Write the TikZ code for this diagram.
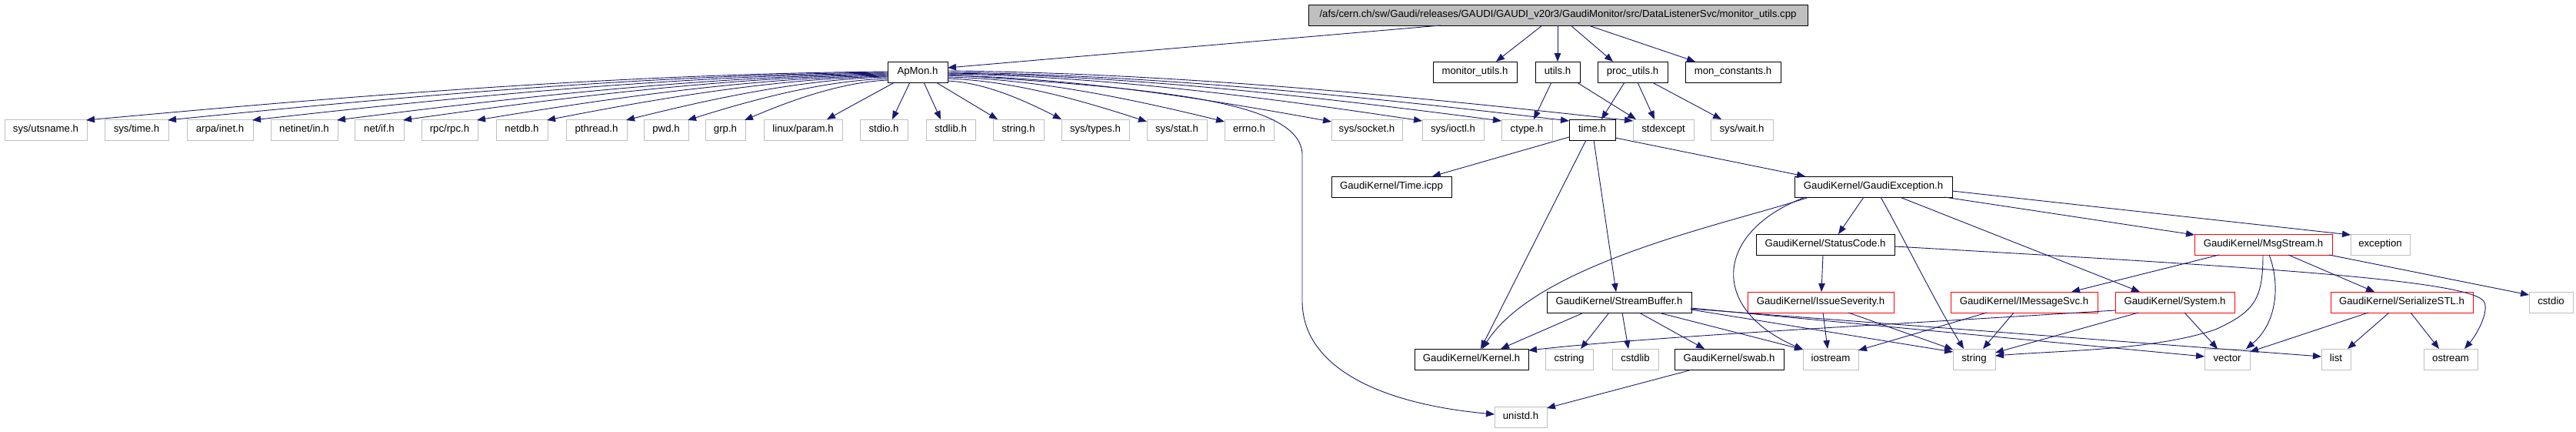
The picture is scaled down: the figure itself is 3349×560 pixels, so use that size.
\documentclass[tikz,border=0pt]{standalone}
\usepackage{fontspec}
\setmainfont{Liberation Sans}
\usetikzlibrary{arrows.meta,calc}
\definecolor{edgeblue}{HTML}{191970}
\definecolor{nodegray}{HTML}{BFBFBF}
\tikzset{
 nbox/.style={draw, line width=1pt, anchor=north west, inner sep=0pt, outer sep=0pt,
   minimum height=27pt, text height=9.6pt, text depth=2.9pt,
   font=\fontsize{13.2}{15}\selectfont, align=center},
 doc/.style={nbox, draw=black},
 ext/.style={nbox, draw=nodegray},
 trunc/.style={nbox, draw=red},
 root/.style={nbox, draw=black, fill=nodegray},
 conn/.style={draw=edgeblue, line width=0.9pt, -{Triangle[length=11pt,width=8.5pt]}}
}
\newcommand\edg[6]{\draw[conn] ($(#1.north west)+(#2,#3)$) -- ($(#4.north west)+(#5,#6)$);}
\newcommand\cedg[8]{\draw[conn] ($(#1.north west)+(#2,#3)$) .. controls (#7) and (#8) .. ($(#4.north west)+(#5,#6)$);}
\begin{document}
\begin{tikzpicture}[x=1pt,y=-1pt]
\useasboundingbox (0,0) rectangle (3349,560);
% root
\node[root, minimum width=649pt] (top) at (1701,6) {/afs/cern.ch/sw/Gaudi/releases/GAUDI/GAUDI\_v20r3/GaudiMonitor/src/DataListenerSvc/monitor\_utils.cpp};
% row A
\node[doc, minimum width=78pt] (apmon) at (1154,80) {ApMon.h};
\node[doc, minimum width=109pt] (monu) at (1863,80) {monitor\_utils.h};
\node[doc, minimum width=58pt] (utils) at (1996,80) {utils.h};
\node[doc, minimum width=91pt] (procu) at (2077,80) {proc\_utils.h};
\node[doc, minimum width=124pt] (monc) at (2191,80) {mon\_constants.h};
% row B
\node[ext, minimum width=107pt] (utsname) at (6,155) {sys/utsname.h};
\node[ext, minimum width=83pt] (systime) at (136,155) {sys/time.h};
\node[ext, minimum width=86pt] (arpa) at (243,155) {arpa/inet.h};
\node[ext, minimum width=87pt] (netinet) at (352,155) {netinet/in.h};
\node[ext, minimum width=64pt] (netif) at (461,155) {net/if.h};
\node[ext, minimum width=73pt] (rpc) at (548,155) {rpc/rpc.h};
\node[ext, minimum width=67pt] (netdb) at (645,155) {netdb.h};
\node[ext, minimum width=79pt] (pthread) at (736,155) {pthread.h};
\node[ext, minimum width=58pt] (pwd) at (837,155) {pwd.h};
\node[ext, minimum width=52pt] (grp) at (917,155) {grp.h};
\node[ext, minimum width=102pt] (linuxp) at (993,155) {linux/param.h};
\node[ext, minimum width=62pt] (stdio) at (1118,155) {stdio.h};
\node[ext, minimum width=64pt] (stdlib) at (1204,155) {stdlib.h};
\node[ext, minimum width=66pt] (stringh) at (1291,155) {string.h};
\node[ext, minimum width=88pt] (systypes) at (1380,155) {sys/types.h};
\node[ext, minimum width=78pt] (sysstat) at (1491,155) {sys/stat.h};
\node[ext, minimum width=64pt] (errno) at (1592,155) {errno.h};
\node[ext, minimum width=92pt] (syssocket) at (1731,155) {sys/socket.h};
\node[ext, minimum width=80pt] (sysioctl) at (1849,155) {sys/ioctl.h};
\node[ext, minimum width=66pt] (ctype) at (1952,155) {ctype.h};
\node[doc, minimum width=60pt] (timeh) at (2040,155) {time.h};
\node[ext, minimum width=79pt] (stdexcept) at (2123,155) {stdexcept};
\node[ext, minimum width=81pt] (syswait) at (2224,155) {sys/wait.h};
% row C
\node[doc, minimum width=156pt] (timeicpp) at (1731,229) {GaudiKernel/Time.icpp};
\node[doc, minimum width=205pt] (gexc) at (2333,229) {GaudiKernel/GaudiException.h};
% row D
\node[doc, minimum width=180pt] (status) at (2283,304) {GaudiKernel/StatusCode.h};
\node[trunc, minimum width=179pt] (msgs) at (2853,304) {GaudiKernel/MsgStream.h};
\node[ext, minimum width=77pt] (exception) at (3056,304) {exception};
% row E
\node[doc, minimum width=188pt] (sbuf) at (2011,379) {GaudiKernel/StreamBuffer.h};
\node[trunc, minimum width=190pt] (issue) at (2272,379) {GaudiKernel/IssueSeverity.h};
\node[trunc, minimum width=191pt] (imsg) at (2536,379) {GaudiKernel/IMessageSvc.h};
\node[trunc, minimum width=155pt] (system) at (2750,379) {GaudiKernel/System.h};
\node[trunc, minimum width=185pt] (serial) at (3030,379) {GaudiKernel/SerializeSTL.h};
\node[ext, minimum width=57pt] (cstdio) at (3288,379) {cstdio};
% row F
\node[doc, minimum width=148pt] (kernel) at (1839,453) {GaudiKernel/Kernel.h};
\node[ext, minimum width=62pt] (cstring) at (2009,453) {cstring};
\node[ext, minimum width=60pt] (cstdlib) at (2096,453) {cstdlib};
\node[doc, minimum width=142pt] (swab) at (2177,453) {GaudiKernel/swab.h};
\node[ext, minimum width=72pt] (iostream) at (2344,453) {iostream};
\node[ext, minimum width=55pt] (string) at (2539,453) {string};
\node[ext, minimum width=59pt] (vector) at (2866,453) {vector};
\node[ext, minimum width=38pt] (list) at (3018,453) {list};
\node[ext, minimum width=70pt] (ostream) at (3151,453) {ostream};
% row G
\node[ext, minimum width=68pt] (unistd) at (1943,528) {unistd.h};

% root edges
\edg{top}{172}{27}{apmon}{78}{8}
\edg{top}{304}{27}{monu}{82}{0}
\edg{top}{324}{27}{utils}{29}{0}
\edg{top}{341}{27}{procu}{20}{0}
\edg{top}{364}{27}{monc}{13}{0}
\edg{utils}{21}{27}{ctype}{42}{0}
\edg{utils}{54}{27}{stdexcept}{4}{0}
\edg{procu}{35}{27}{timeh}{42}{0}
\edg{procu}{52}{27}{stdexcept}{28}{0}
\edg{procu}{71}{27}{syswait}{14}{0}
% ApMon fan, left
\cedg{apmon}{0}{13}{utsname}{106}{1}{810,96}{456,124.5}
\cedg{apmon}{0}{14}{systime}{82}{1}{845,97}{527,125}
\cedg{apmon}{0}{15}{arpa}{85}{1}{881,98}{601,125.5}
\cedg{apmon}{0}{16}{netinet}{86}{1}{918,99}{674,126}
\cedg{apmon}{0}{17}{netif}{63}{1}{946,100}{732,126.5}
\cedg{apmon}{0}{18}{rpc}{72}{1}{978,101}{796,127}
\cedg{apmon}{0}{19}{netdb}{66}{1}{1008,102}{857,127.5}
\cedg{apmon}{0}{20}{pthread}{78}{1}{1042,103}{926,128}
\cedg{apmon}{0}{22}{pwd}{57}{1}{1069,105}{980,129}
\cedg{apmon}{0}{24}{grp}{51}{1}{1093,107}{1029,130}
\edg{apmon}{9}{27}{linuxp}{82}{0}
\edg{apmon}{29}{27}{stdio}{42}{0}
\edg{apmon}{47}{27}{stdlib}{19}{0}
\edg{apmon}{63}{27}{stringh}{6}{0}
% ApMon fan, right
\cedg{apmon}{78}{25}{systypes}{0}{0}{1281,107.5}{1331,130}
\cedg{apmon}{78}{22}{sysstat}{0}{3}{1317,105}{1405,130}
\cedg{apmon}{78}{20}{errno}{0}{3}{1351,103}{1473,129}
\cedg{apmon}{78}{18}{syssocket}{0}{3}{1397,101}{1566,128}
\cedg{apmon}{78}{16}{sysioctl}{0}{2}{1436,99}{1645,126.5}
\cedg{apmon}{78}{15}{ctype}{0}{2}{1470,98}{1714,126}
\cedg{apmon}{78}{14}{timeh}{0}{2}{1499,97}{1773,125.5}
\cedg{apmon}{78}{12}{stdexcept}{0}{2}{1526,95}{1829,124.5}
\draw[conn] ($(apmon.north west)+(78,17)$) .. controls (1500,115) and (1690,130) .. (1693,200) -- (1693,393) .. controls (1695,480) and (1800,525) .. ($(unistd.north west)+(0,10)$);
% time.h
\edg{timeh}{0}{23}{timeicpp}{131}{0}
\edg{timeh}{22}{27}{kernel}{86}{0}
\edg{timeh}{32}{27}{sbuf}{90}{0}
\edg{timeh}{60}{24}{gexc}{14}{0}
% GaudiException
\edg{gexc}{90}{27}{status}{107}{0}
\cedg{gexc}{112}{27}{string}{14}{0}{2470,300}{2520,400}
\edg{gexc}{137}{27}{system}{32}{0}
\edg{gexc}{195}{27}{msgs}{0}{1}
\edg{gexc}{205}{19}{exception}{0}{1}
\cedg{gexc}{19}{27}{kernel}{88}{0}{2250,290}{2000,340}
\cedg{gexc}{14}{27}{iostream}{0}{1}{2230,300}{2220,400}
% StatusCode
\edg{status}{87}{27}{issue}{96}{0}
\draw[conn] ($(status.north west)+(180,16)$) .. controls (2900,345) and (3200,362) .. (3228,390) .. controls (3238,400) and (3222,432) .. ($(ostream.north west)+(53,0)$);
% IssueSeverity
\edg{issue}{98}{27}{iostream}{32}{0}
\edg{issue}{131}{27}{string}{0}{1}
% IMessageSvc
\edg{imsg}{47}{27}{iostream}{72}{2}
\edg{imsg}{82}{27}{string}{39}{0}
% System
\cedg{system}{0}{24}{kernel}{148}{2}{2400,425}{2150,437}
\edg{system}{30}{27}{string}{55}{5}
\edg{system}{90}{27}{vector}{17}{0}
% MsgStream
\edg{msgs}{32}{27}{imsg}{157}{0}
\draw[conn] ($(msgs.north west)+(89,27)$) .. controls (2942,390) and (2930,405) .. (2880,428) .. controls (2800,455) and (2680,455) .. ($(string.north west)+(55,9)$);
\cedg{msgs}{97}{27}{vector}{54}{0}{2965,370}{2960,420}
\edg{msgs}{122}{27}{serial}{57}{0}
\edg{msgs}{175}{27}{cstdio}{0}{4}
% SerializeSTL
\edg{serial}{49}{27}{vector}{59}{4}
\edg{serial}{76}{27}{list}{34}{0}
\edg{serial}{104}{27}{ostream}{20}{0}
% StreamBuffer
\edg{sbuf}{48}{27}{kernel}{112}{0}
\edg{sbuf}{81}{27}{cstring}{46}{0}
\edg{sbuf}{98}{27}{cstdlib}{21}{0}
\edg{sbuf}{120}{27}{swab}{39}{0}
\edg{sbuf}{145}{27}{iostream}{0}{1}
\edg{sbuf}{187}{23}{string}{0}{4}
\edg{sbuf}{187}{21}{vector}{0}{10}
\edg{sbuf}{187}{22}{list}{0}{10}
% swab
\edg{swab}{23}{27}{unistd}{68}{2}
\end{tikzpicture}
\end{document}
